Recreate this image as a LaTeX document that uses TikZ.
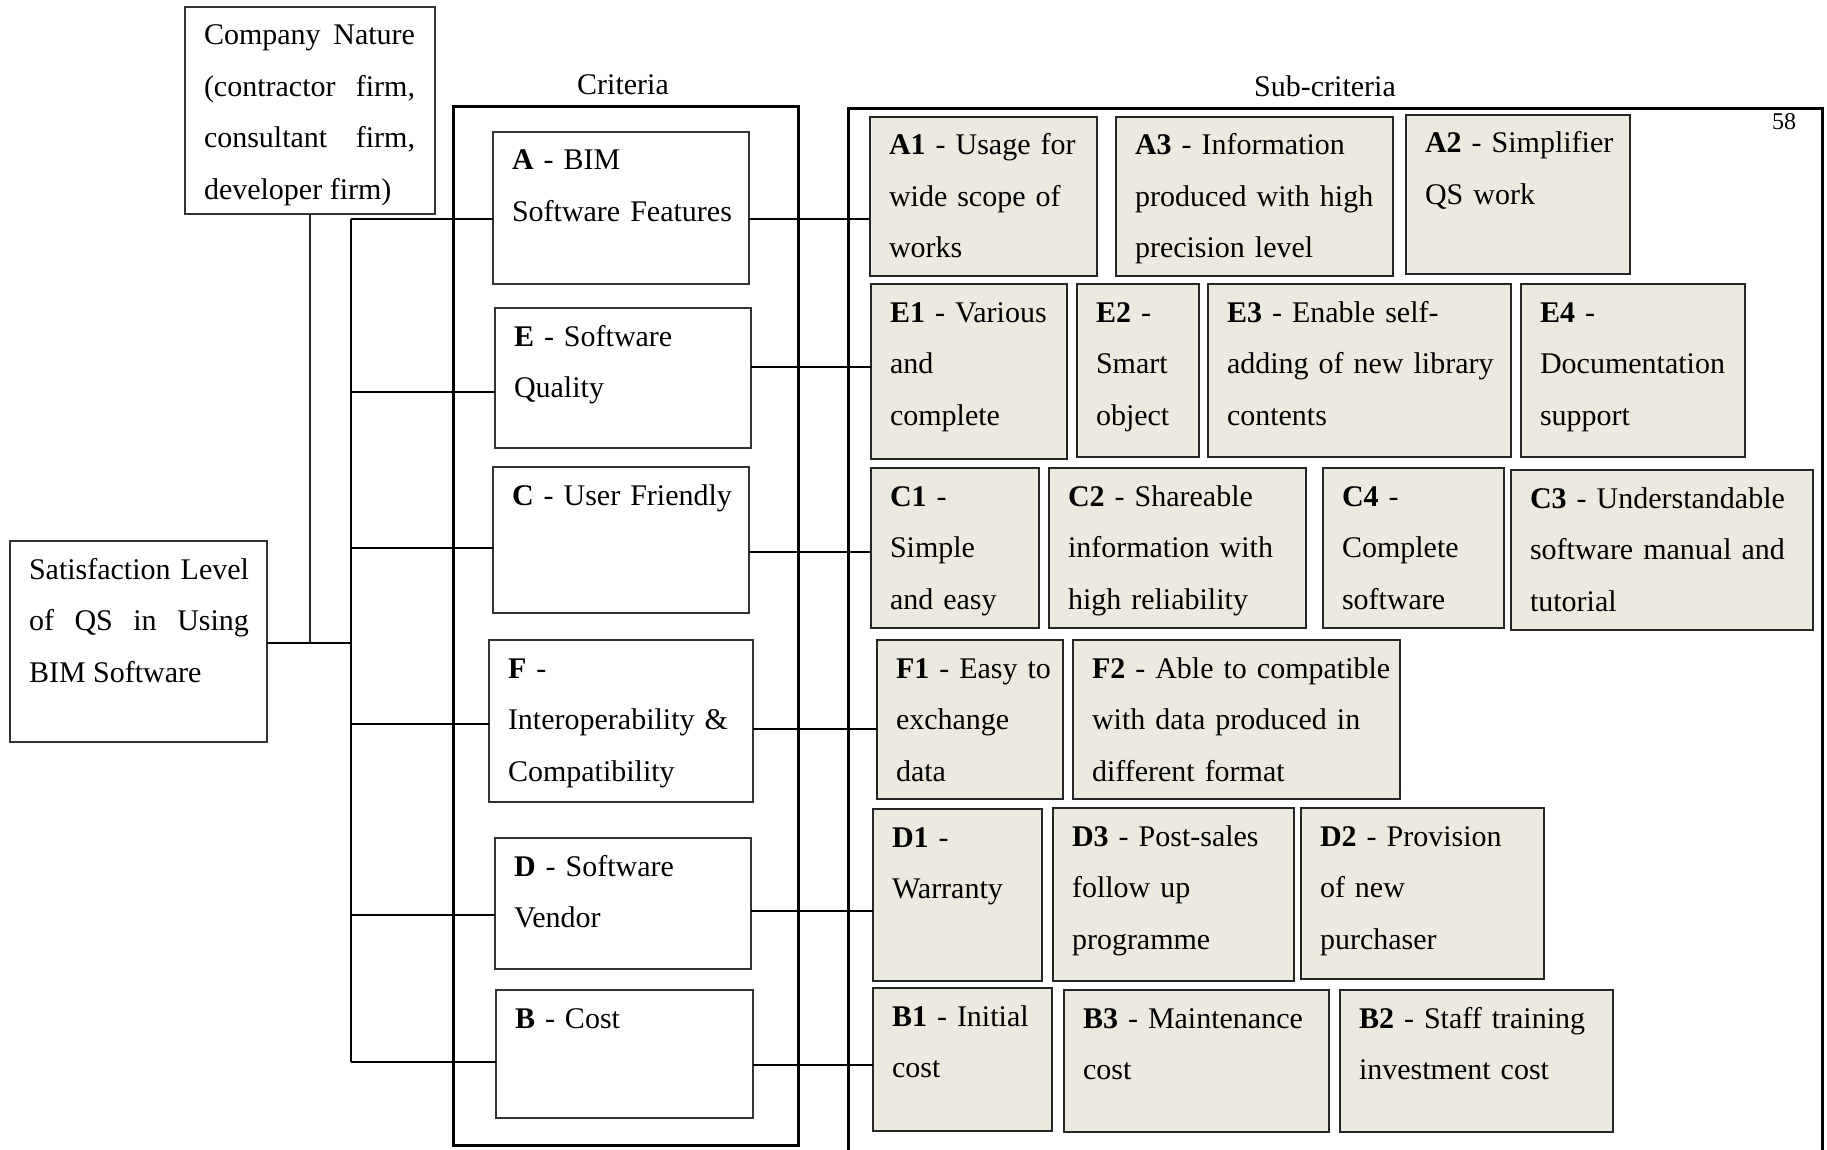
\documentclass[tikz,border=0pt]{standalone}
\usepackage{fontspec}
\setmainfont{Liberation Serif}
\definecolor{beige}{RGB}{236,233,223}
\tikzset{
  critbox/.style={draw=black!80, line width=1.5pt, fill=white, inner sep=0pt, outer sep=0pt},
  subbox/.style={draw=black!85, line width=1.6pt, fill=beige, inner sep=0pt, outer sep=0pt},
  txt/.style={inner sep=0pt, outer sep=0pt, font=\fontsize{30}{51.5}\selectfont, align=left},
  jtxt/.style={inner sep=0pt, outer sep=0pt, font=\fontsize{30}{51.5}\selectfont, align=justify},
  conn/.style={line width=2pt, black},
  thinconn/.style={line width=1.5pt, black!85},
  frameline/.style={line width=3pt, black},
  title/.style={inner sep=0pt, font=\fontsize{30}{36}\selectfont},
}
% #1 name, #2 box style, #3 text style, #4 x1, #5 y1, #6 x2, #7 y2, #8 text, #9 text width reduction
\newcommand{\mybox}[9]{%
  \pgfmathsetmacro{\myw}{#6-#4}%
  \pgfmathsetmacro{\myh}{#7-#5}%
  \pgfmathsetmacro{\mytw}{#6-#4-#9}%
  \node[#2, anchor=north west, minimum width=\myw pt, minimum height=\myh pt] (#1) at (#4,#5) {};
  \node[#3, text width=\mytw pt, anchor=base west] (#1t) at (#4+19,#5+38) {#8};
}
\begin{document}
\begin{tikzpicture}[x=1pt,y=-1pt]
\useasboundingbox (0,0) rectangle (1827,1150);
\fill[white] (0,0) rectangle (1827,1150);

% titles
\node[title, anchor=base] (crittitle) at (623,95) {Criteria};
\node[title, anchor=base] (subtitle) at (1325,97) {Sub-criteria};
\node[inner sep=0pt, font=\fontsize{24}{28}\selectfont, anchor=base] (pagenum) at (1784,130) {58};

% outer frames
\node[draw, frameline, inner sep=0pt, outer sep=0pt, anchor=north west, minimum width=345pt, minimum height=1038pt] (critframe) at (453,107) {};
\draw[frameline] (848,1152) -- (848,109) -- (1822,109) -- (1822,1152);

% left boxes
\mybox{Comp}{critbox}{jtxt}{185}{7}{435}{214}{Company Nature\linebreak (contractor firm,\linebreak consultant firm,\linebreak developer firm)}{39}
\mybox{Sat}{critbox}{jtxt}{10}{541}{267}{742}{Satisfaction Level\linebreak of QS in Using\linebreak BIM Software}{37}

% criteria boxes
\mybox{A}{critbox}{txt}{493}{132}{749}{284}{\textbf{A} - BIM\\Software Features}{20}
\mybox{E}{critbox}{txt}{495}{308}{751}{448}{\textbf{E} - Software\\Quality}{20}
\mybox{C}{critbox}{txt}{493}{467}{749}{613}{\textbf{C} - User Friendly}{20}
\mybox{F}{critbox}{txt}{489}{640}{753}{802}{\textbf{F} -\\Interoperability \&\\Compatibility}{20}
\mybox{D}{critbox}{txt}{495}{838}{751}{969}{\textbf{D} - Software\\Vendor}{20}
\mybox{B}{critbox}{txt}{496}{990}{753}{1118}{\textbf{B} - Cost}{20}

% sub-criteria boxes
\mybox{A1}{subbox}{txt}{870}{117}{1097}{276}{\textbf{A1} - Usage for\\wide scope of\\works}{20}
\mybox{A3}{subbox}{txt}{1116}{117}{1393}{276}{\textbf{A3} - Information\\produced with high\\precision level}{20}
\mybox{A2}{subbox}{txt}{1406}{115}{1630}{274}{\textbf{A2} - Simplifier\\QS work}{20}

\mybox{E1}{subbox}{txt}{871}{284}{1067}{459}{\textbf{E1} - Various\\and\\complete}{20}
\mybox{E2}{subbox}{txt}{1077}{284}{1199}{457}{\textbf{E2} -\\Smart\\object}{20}
\mybox{E3}{subbox}{txt}{1208}{284}{1511}{457}{\textbf{E3} - Enable self-\\adding of new library\\contents}{20}
\mybox{E4}{subbox}{txt}{1521}{284}{1745}{457}{\textbf{E4} -\\Documentation\\support}{20}

\mybox{C1}{subbox}{txt}{871}{468}{1039}{628}{\textbf{C1} -\\Simple\\and easy}{20}
\mybox{C2}{subbox}{txt}{1049}{468}{1306}{628}{\textbf{C2} - Shareable\\information with\\high reliability}{20}
\mybox{C4}{subbox}{txt}{1323}{468}{1504}{628}{\textbf{C4} -\\Complete\\software}{20}
\mybox{C3}{subbox}{txt}{1511}{470}{1813}{630}{\textbf{C3} - Understandable\\software manual and\\tutorial}{20}

\mybox{F1}{subbox}{txt}{877}{640}{1063}{799}{\textbf{F1} - Easy to\\exchange\\data}{20}
\mybox{F2}{subbox}{txt}{1073}{640}{1400}{799}{\textbf{F2} - Able to compatible\\with data produced in\\different format}{20}

\mybox{D1}{subbox}{txt}{873}{809}{1042}{981}{\textbf{D1} -\\Warranty}{20}
\mybox{D3}{subbox}{txt}{1053}{808}{1294}{981}{\textbf{D3} - Post-sales\\follow up\\programme}{20}
\mybox{D2}{subbox}{txt}{1301}{808}{1544}{979}{\textbf{D2} - Provision\\of new\\purchaser}{20}

\mybox{B1}{subbox}{txt}{873}{988}{1052}{1131}{\textbf{B1} - Initial\\cost}{20}
\mybox{B3}{subbox}{txt}{1064}{990}{1329}{1132}{\textbf{B3} - Maintenance\\cost}{20}
\mybox{B2}{subbox}{txt}{1340}{990}{1613}{1132}{\textbf{B2} - Staff training\\investment cost}{20}

% connectors
\coordinate (hub) at (351,643);
\coordinate (bA) at (351,219);
\coordinate (bE) at (351,392);
\coordinate (bC) at (351,548);
\coordinate (bF) at (351,724);
\coordinate (bD) at (351,915);
\coordinate (bB) at (351,1062);

\draw[conn] (Sat.east |- hub) -- (hub);
\draw[thinconn] (Comp.south) -- (Comp.south |- hub);
\draw[conn] (bA) -- (bB);

\draw[conn] (bA) -- (bA -| A.west);
\draw[conn] (bE) -- (bE -| E.west);
\draw[conn] (bC) -- (bC -| C.west);
\draw[conn] (bF) -- (bF -| F.west);
\draw[conn] (bD) -- (bD -| D.west);
\draw[conn] (bB) -- (bB -| B.west);

\draw[conn] (A.east |- 0,219) -- (A1.west |- 0,219);
\draw[conn] (E.east |- 0,367) -- (E1.west |- 0,367);
\draw[conn] (C.east |- 0,552) -- (C1.west |- 0,552);
\draw[conn] (F.east |- 0,729) -- (F1.west |- 0,729);
\draw[conn] (D.east |- 0,911) -- (D1.west |- 0,911);
\draw[conn] (B.east |- 0,1065) -- (B1.west |- 0,1065);
\end{tikzpicture}
\end{document}
